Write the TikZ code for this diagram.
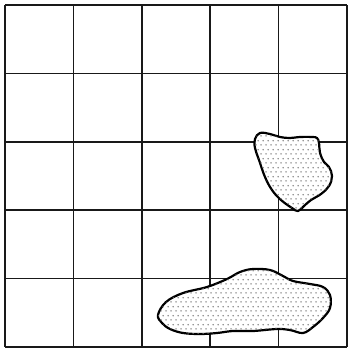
\documentclass[tikz,border=0pt]{standalone}
\usetikzlibrary{patterns.meta}
\tikzdeclarepattern{
  name=stip,
  type=uncolored,
  bottom left={(0pt,0pt)},
  top right={(5pt,8.66pt)},
  tile size={(5pt,8.66pt)},
  code={
    \fill (1.25pt,2.165pt) circle (0.85pt);
    \fill (3.75pt,6.495pt) circle (0.85pt);
  }
}
\tikzset{
  gridline/.style={line width=1.5pt, draw=black!90},
  blob/.style={line width=2.2pt, draw=black, fill=white, postaction={pattern={stip}, pattern color=black!55}}
}
\begin{document}
\begin{tikzpicture}[x=1pt,y=-1pt]
\useasboundingbox (0,0) rectangle (350,348);
% grid
\foreach \v in {5,73.4,141.8,210.2,278.6,347}{
  \draw[gridline] (\v,5) -- (\v,347);
  \draw[gridline] (5,\v) -- (347,\v);
}
% upper right blob
\draw[blob] plot[smooth cycle, tension=0.65] coordinates {
 (255,139) (260,133) (270,134) (280,137) (290,138) (300,137) (312,137) (317,138)
 (319,143) (320,153) (324,162) (329,167) (332,176) (329,186) (321,194) (311,200)
 (304,206) (298,211) (292,208) (281,200) (272,190) (265,177) (259,160) (255,148)};
% bottom blob
\draw[blob] plot[smooth cycle, tension=0.6] coordinates {
 (158,315) (166,302) (183,293) (207,287) (227,279) (240,272) (253,269) (270,270)
 (283,276) (293,281) (310,284) (323,287) (330,295) (330,308) (323,318) (313,327)
 (303,333) (290,330) (277,329) (253,331) (233,331) (217,333) (200,334) (183,333)
 (170,329) (162,323)};
\end{tikzpicture}
\end{document}
